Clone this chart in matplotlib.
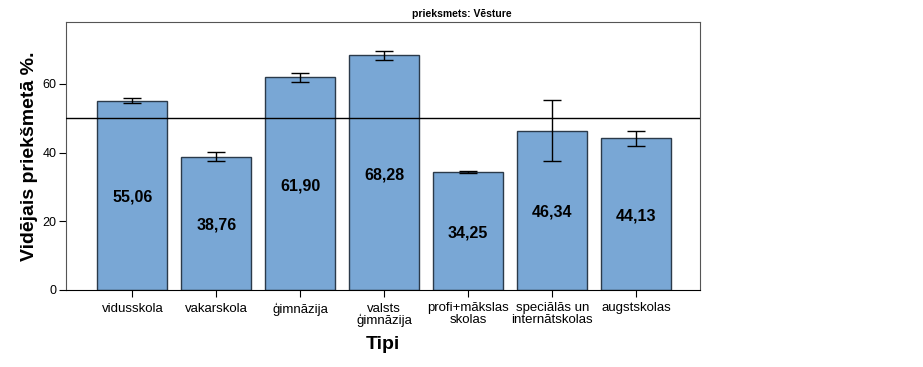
import matplotlib.pyplot as plt

plt.rcParams['font.family'] = ['Liberation Sans', 'DejaVu Sans']

categories = ['vidusskola', 'vakarskola', 'ģimnāzija', 'valsts\nģimnāzija',
              'profi+mākslas\nskolas', 'speciālās un\ninternātskolas', 'augstskolas']
means = [55.06, 38.76, 61.90, 68.28, 34.25, 46.34, 44.13]
errors = [0.7, 1.3, 1.4, 1.35, 0.3, 8.9, 2.1]
labels = ['55,06', '38,76', '61,90', '68,28', '34,25', '46,34', '44,13']
ref_line = 50

fig = plt.figure(figsize=(9.23, 3.67), dpi=100, facecolor='white')
ax = fig.add_axes([66/923, 1-290/367, (700-66)/923, (290-22)/367])

x = range(len(categories))
ax.bar(x, means, width=0.83, color='#79A7D5', edgecolor='#2b3a4a', linewidth=1.0, zorder=2)
ax.errorbar(x, means, yerr=errors, fmt='none', ecolor='black', elinewidth=1.0,
            capsize=6.5, capthick=1.0, zorder=3)
ax.axhline(ref_line, color='black', linewidth=1.0, zorder=4)

for i, (m, lab) in enumerate(zip(means, labels)):
    ax.text(i, m/2 - 0.6, lab, ha='center', va='center', fontsize=11.5, fontweight='bold', zorder=5)

ax.set_xlim(-0.79, 6.76)
ax.set_ylim(0, 78)
ax.set_yticks([0, 20, 40, 60])
ax.set_xticks(list(x))
ax.set_xticklabels(categories, fontsize=9.5, linespacing=0.95)
ax.tick_params(axis='y', labelsize=9, length=5, direction='out', pad=2)
ax.tick_params(axis='x', length=5, direction='out', pad=4)

for s in ['top', 'right', 'left']:
    ax.spines[s].set_color('#555555')
ax.spines['bottom'].set_color('black')

ax.set_ylabel('Vidējais priekšmetā %.', fontsize=14, fontweight='bold', labelpad=3)
ax.set_xlabel('Tipi', fontsize=14, fontweight='bold', labelpad=6)

fig.text(0.5, 1-14/367, 'prieksmets: Vēsture', ha='center', va='center',
         fontsize=7.5, fontweight='bold')

fig.savefig('out.png', dpi=100, facecolor='white')
